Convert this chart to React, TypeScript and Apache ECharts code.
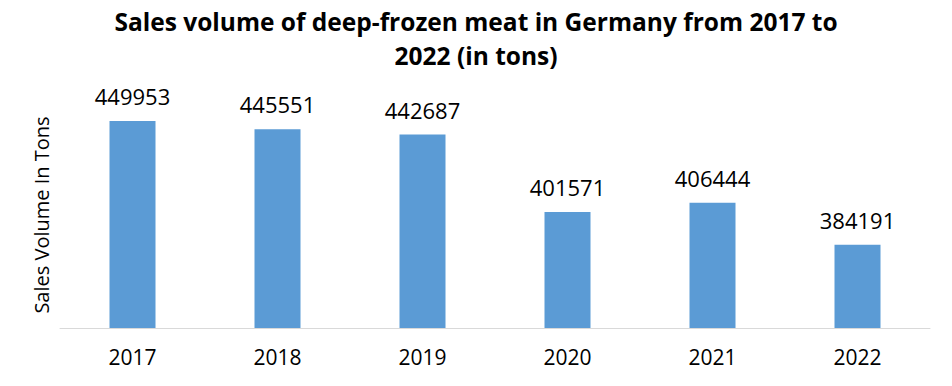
import React, { useEffect, useRef } from "react";
import * as echarts from "echarts";

const categories = ["2017", "2018", "2019", "2020", "2021", "2022"];
const salesVolume = [449953, 445551, 442687, 401571, 406444, 384191];
const titleText = "Sales volume of deep-frozen meat in Germany from 2017 to\n2022 (in tons)";
const yAxisName = "Sales Volume In Tons";

const FONT = "'Open Sans', 'Noto Sans', sans-serif";

export default function App() {
  const ref = useRef<HTMLDivElement>(null);
  useEffect(() => {
    if (!ref.current) return;
    const chart = echarts.init(ref.current, undefined, { renderer: "svg" });
    chart.setOption({
      animation: false,
      backgroundColor: "#ffffff",
      title: {
        text: titleText,
        left: "center",
        top: 4,
        padding: 0,
        textStyle: {
          fontFamily: FONT,
          fontWeight: "bold",
          fontSize: 24.5,
          lineHeight: 34,
          color: "#000000",
        },
      },
      grid: { left: 60, right: 22, top: 102, bottom: 58, containLabel: false },
      xAxis: {
        type: "category",
        data: categories,
        axisLine: { show: true, lineStyle: { color: "#D9D9D9", width: 1 } },
        axisTick: { show: false },
        axisLabel: {
          fontFamily: FONT,
          fontSize: 21,
          color: "#000000",
          margin: 18,
        },
      },
      yAxis: {
        type: "value",
        min: 340000,
        max: 460000,
        interval: 20000,
        name: yAxisName,
        nameLocation: "middle",
        nameRotate: 90,
        nameGap: 9,
        nameTextStyle: { fontFamily: FONT, fontSize: 20, color: "#000000" },
        axisLine: { show: false },
        axisTick: { show: false },
        axisLabel: { show: false },
        splitLine: { show: false },
      },
      series: [
        {
          type: "bar",
          data: salesVolume,
          barWidth: 46,
          itemStyle: { color: "#5B9BD5" },
          label: {
            show: true,
            position: "top",
            distance: 14,
            fontFamily: FONT,
            fontSize: 22,
            color: "#000000",
          },
        },
      ],
    });
    return () => chart.dispose();
  }, []);
  return (
    <div
      ref={ref}
      style={{ position: "absolute", left: 0, top: 0, width: 952, height: 386 }}
    />
  );
}
